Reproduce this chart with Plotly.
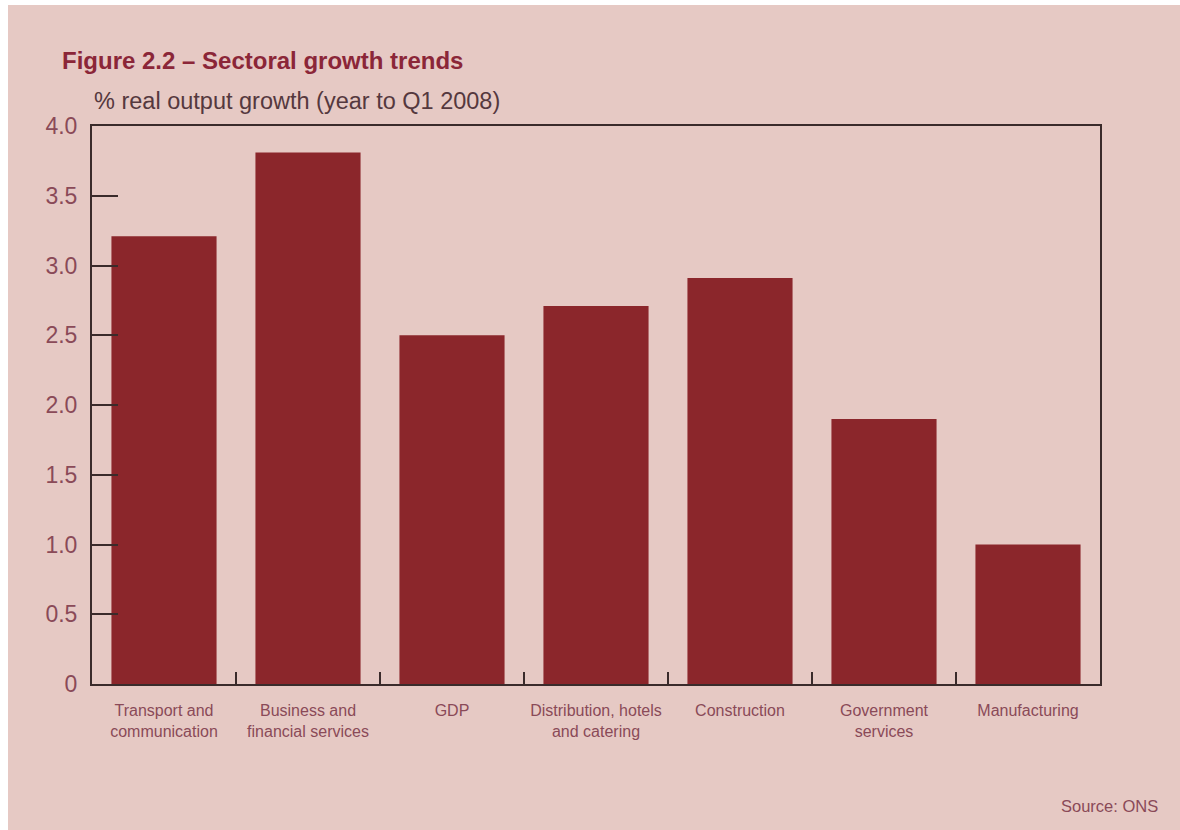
import plotly.graph_objects as go

categories = ["Transport and<br>communication", "Business and<br>financial services", "GDP",
              "Distribution, hotels<br>and catering", "Construction", "Government<br>services",
              "Manufacturing"]
growth = [3.21, 3.81, 2.50, 2.71, 2.91, 1.90, 1.00]
y_tickvals = [0, 0.5, 1.0, 1.5, 2.0, 2.5, 3.0, 3.5, 4.0]
y_ticktext = ["0", "0.5", "1.0", "1.5", "2.0", "2.5", "3.0", "3.5", "4.0"]

BG = "#E6C9C4"
BAR = "#8B262B"
TXT = "#8A4A58"
AX = "#3A2B2B"
FONT = "Liberation Sans, Arial, sans-serif"

L, R, T, B = 92, 80, 126, 146
W, H = 1180, 830
PW, PH = W - L - R, H - T - B

def px(x):
    return (x - L) / PW

def py(y):
    return (H - B - y) / PH

fig = go.Figure(go.Bar(x=categories, y=growth, marker=dict(color=BAR, line=dict(width=0)),
                       width=0.73))

fig.update_layout(
    width=W, height=H,
    margin=dict(l=L, r=R, t=T, b=B),
    paper_bgcolor=BG, plot_bgcolor=BG,
    showlegend=False,
    font=dict(family=FONT, color=TXT),
    bargap=0.27,
)
fig.update_xaxes(
    type="category", showline=True, linecolor=AX, linewidth=2, mirror=True,
    ticks="inside", tickson="boundaries", ticklen=12, tickcolor=AX, tickwidth=1.5,
    tickfont=dict(size=16, color=TXT, family=FONT), ticklabelstandoff=11, tickangle=0,
    showgrid=False, fixedrange=True,
)
fig.update_yaxes(
    range=[0, 4.0], tickvals=y_tickvals, ticktext=y_ticktext,
    showline=True, linecolor=AX, linewidth=2, mirror=True,
    ticks="inside", ticklen=26, tickcolor=AX, tickwidth=1.5,
    tickfont=dict(size=23, color=TXT, family=FONT), ticklabelstandoff=8,
    showgrid=False, zeroline=False,
)

fig.add_annotation(text="<b>Figure 2.2 – Sectoral growth trends</b>", xref="paper", yref="paper",
                   x=px(60), y=py(61), xanchor="left", yanchor="middle", showarrow=False,
                   font=dict(size=24, color="#8B2638", family=FONT))
fig.add_annotation(text="% real output growth (year to Q1 2008)", xref="paper", yref="paper",
                   x=px(92), y=py(101), xanchor="left", yanchor="middle", showarrow=False,
                   font=dict(size=23.5, color="#55383E", family=FONT))
fig.add_annotation(text="Source: ONS", xref="paper", yref="paper",
                   x=px(1160), y=py(806), xanchor="right", yanchor="middle", showarrow=False,
                   font=dict(size=16.5, color=TXT, family=FONT))

# white border strips of the scanned page
fig.add_shape(type="rect", xref="paper", yref="paper", x0=px(0), x1=px(W), y0=py(0), y1=py(5),
              fillcolor="white", line=dict(width=0), layer="below")
fig.add_shape(type="rect", xref="paper", yref="paper", x0=px(0), x1=px(8), y0=py(0), y1=py(H),
              fillcolor="white", line=dict(width=0), layer="below")

fig.write_html("out.html")
